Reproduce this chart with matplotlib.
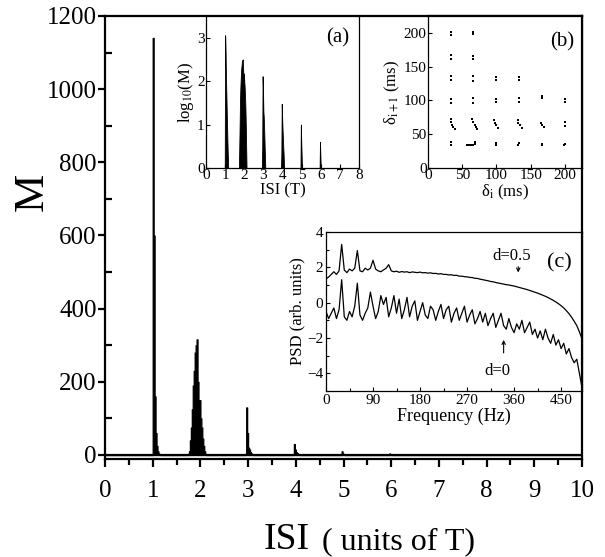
import numpy as np
import matplotlib
matplotlib.use("Agg")
import matplotlib.pyplot as plt
from matplotlib.ticker import MultipleLocator

plt.rcParams['font.family'] = ['Liberation Serif', 'DejaVu Serif']
plt.rcParams['mathtext.fontset'] = 'stix'

# ---------------- data ----------------
# ISI histogram (bin left edges in units of T, bin width 0.02)
isi_edges = [1.00, 1.02, 1.04, 1.06, 1.08, 1.10, 1.12, 1.14,
             1.74, 1.76, 1.78, 1.80, 1.82, 1.84, 1.86, 1.88, 1.90, 1.92, 1.94, 1.96, 1.98,
             2.00, 2.02, 2.04, 2.06, 2.08, 2.10,
             2.94, 2.96, 2.98, 3.00, 3.02, 3.04, 3.06, 3.08,
             3.94, 3.96, 3.98, 4.00, 4.02, 4.04, 4.06,
             4.96, 4.98, 5.00,
             5.96, 5.98]
isi_counts = [1140, 600, 160, 60, 25, 10, 4, 2,
              3, 10, 40, 75, 125, 190, 230, 280, 300, 316, 200, 100, 150,
              100, 75, 45, 25, 10, 3,
              3, 130, 60, 20, 15, 8, 4, 2,
              2, 30, 15, 8, 5, 3, 2,
              10, 4, 2,
              4, 2]
bin_width = 0.02

# return map (b): delta_i, delta_{i+1} in ms
map_x = [33, 33, 33, 33, 33, 33, 33, 33, 33, 34, 35, 37, 39, 33, 33,
         66, 66, 66, 66, 66, 66, 66, 66, 64, 66, 68, 70, 72, 57, 60, 63, 66, 68, 68,
         100, 100, 100, 100, 97, 98, 100, 103, 99, 100,
         133, 133, 133, 133, 131, 132, 134, 137, 132, 133,
         167, 167, 165, 167, 169, 166, 167,
         200, 200, 200, 200, 199, 200]
map_y = [197, 201, 162, 167, 130, 136, 96, 102, 72, 68, 64, 61, 58, 34, 38,
         198, 202, 162, 166, 129, 136, 96, 103, 72, 68, 64, 60, 57, 34, 34, 34, 34, 35, 38,
         131, 134, 98, 102, 71, 67, 63, 59, 34, 37,
         131, 134, 97, 103, 71, 67, 63, 59, 34, 37,
         104, 106, 66, 63, 60, 34, 35,
         98, 102, 62, 68, 34, 36]

# PSD (c)
freq = list(range(0, 491, 5))
psd_d05 = [1.35, 1.45, 1.6, 1.75, 1.6, 1.8, 3.3, 1.85, 1.7, 1.9, 1.8, 1.95, 2.95, 1.8, 1.75,
           1.95, 1.85, 1.95, 2.4, 1.9, 1.8, 1.75, 1.85, 1.95, 2.15, 1.8, 1.75, 1.78, 1.72, 1.76,
           1.73, 1.75, 1.7, 1.74, 1.72, 1.7, 1.73, 1.69, 1.7, 1.67, 1.69, 1.65, 1.66, 1.62, 1.64,
           1.6, 1.6, 1.57, 1.58, 1.54, 1.55, 1.5, 1.5, 1.47, 1.46, 1.43, 1.42, 1.38, 1.37, 1.33,
           1.3, 1.27, 1.24, 1.2, 1.18, 1.14, 1.11, 1.08, 1.05, 1.02, 1.0, 0.97, 0.94, 0.9, 0.86,
           0.82, 0.78, 0.74, 0.69, 0.64, 0.59, 0.54, 0.48, 0.42, 0.36, 0.29, 0.21, 0.13, 0.04,
           -0.06, -0.17, -0.3, -0.45, -0.62, -0.82, -1.05, -1.3, -1.65, -2.05]
psd_d0 = [-0.5, -0.9, -0.6, -0.3, -0.9, -0.4, 1.3, -0.8, -1.0, -0.5, -0.8, -0.2, 1.1, -0.7, -1.0,
          -0.6, -0.3, 0.6, -0.2, -0.9, -0.5, 0.4, -0.1, 0.3, -0.8, -0.3, 0.4, -0.6, 0.2, -0.9,
          -0.4, 0.3, -0.8, -0.2, 0.1, -1.0, -0.5, 0.0, -0.7, -0.9, -0.2, -0.4, -1.0, -0.5, -0.1,
          -0.9, -0.4, -0.2, -1.1, -0.6, -0.3, -1.0, -0.6, -0.2, -1.1, -0.7, -0.4, -1.2, -0.9, -0.5,
          -1.1, -0.6, -1.3, -0.9, -0.6, -1.4, -1.0, -0.6, -1.3, -1.5, -0.9, -1.4, -1.7, -1.2, -1.5,
          -1.0, -1.7, -1.4, -1.1, -1.8, -1.5, -2.0, -1.6, -2.1, -1.5, -2.0, -2.3, -1.8, -2.4, -2.1,
          -2.6, -2.3, -2.9, -2.6, -3.1, -3.4, -3.2, -4.0, -4.8]

# ---------------- figure ----------------
W, H = 605, 557
fig = plt.figure(figsize=(W / 100, H / 100), dpi=100)

def rect(l, t, r, b):
    return [l / W, 1 - b / H, (r - l) / W, (b - t) / H]

# full histogram grid (empty bins are zero)
grid = np.round(np.arange(0, 10.0001, bin_width), 2)
lookup = {round(e, 2): c for e, c in zip(isi_edges, isi_counts)}
hist = np.array([lookup.get(round(g, 2), 0) for g in grid], dtype=float)
loghist = np.where(hist > 0, np.log10(np.maximum(hist, 1)), 0.0)

# main axes
ax = fig.add_axes(rect(105, 16, 582, 459))
ax.fill_between(grid, hist, step='post', color='black', edgecolor='black', lw=0.9)
ax.plot([0, 10], [0, 0], color='black', lw=1.6)
ax.set_xlim(0, 10)
ax.set_ylim(-11, 1200)
ax.xaxis.set_major_locator(MultipleLocator(1))
ax.xaxis.set_minor_locator(MultipleLocator(0.5))
ax.yaxis.set_major_locator(MultipleLocator(200))
ax.yaxis.set_minor_locator(MultipleLocator(100))
for s in ax.spines.values():
    s.set_linewidth(1.6)
ax.tick_params(axis='x', which='major', direction='out', length=6, width=1.6, labelsize=18, pad=9)
ax.tick_params(axis='x', which='minor', direction='out', length=4, width=1.6)
ax.tick_params(axis='y', which='major', direction='out', length=5, width=1.6, labelsize=18, pad=1)
ax.tick_params(axis='y', which='minor', direction='in', length=5, width=1.6)

fig.text(32 / W, 1 - 192 / H, "M", fontsize=31, rotation=90, ha='center', va='center')
fig.text(264 / W, 1 - 549 / H, "ISI", fontsize=27, ha='left', va='baseline')
fig.text(322 / W, 1 - 549 / H, "( units of T)", fontsize=23, ha='left', va='baseline')

# inset (a)
axa = fig.add_axes(rect(206, 16, 359, 168))
axa.fill_between(grid, loghist, color='black', edgecolor='black', lw=0.6)
axa.set_xlim(0, 8)
axa.set_ylim(0, 3.5)
axa.set_xticks(range(0, 9))
axa.set_yticks([0, 1, 2, 3])
axa.tick_params(direction='in', length=3, width=0.8, labelsize=11, pad=1)
for s in axa.spines.values():
    s.set_linewidth(0.9)
axa.set_xlabel("ISI (T)", fontsize=12, labelpad=0)
axa.set_ylabel("log$_{10}$(M)", fontsize=12, labelpad=1)
axa.text(6.9, 3.0, "(a)", fontsize=15, ha='center', va='center')

# inset (b)
axb = fig.add_axes(rect(428, 16, 582, 168))
axb.scatter(map_x, map_y, s=4.5, marker='s', color='black', linewidths=0)
axb.set_xlim(0, 225)
axb.set_ylim(0, 225)
axb.set_xticks([0, 50, 100, 150, 200])
axb.set_yticks([0, 50, 100, 150, 200])
axb.tick_params(direction='in', length=3, width=0.8, labelsize=11, pad=1)
for s in axb.spines.values():
    s.set_linewidth(0.9)
axb.spines['right'].set_linewidth(1.6)
axb.spines['top'].set_linewidth(1.6)
axb.set_xlabel("δ$_\\mathrm{i}$ (ms)", fontsize=12, labelpad=0)
axb.set_ylabel("δ$_\\mathrm{i+1}$ (ms)", fontsize=12, labelpad=1)
axb.text(196, 187, "(b)", fontsize=15, ha='center', va='center')

# inset (c)
axc = fig.add_axes(rect(326, 232, 582, 391))
axc.plot(freq, psd_d05, color='black', lw=0.9)
axc.plot(freq, psd_d0, color='black', lw=0.9)
axc.set_xlim(0, 490)
axc.set_ylim(-5, 4)
axc.set_xticks([0, 90, 180, 270, 360, 450])
axc.xaxis.set_minor_locator(MultipleLocator(45))
axc.set_yticks([-4, -2, 0, 2, 4])
axc.yaxis.set_minor_locator(MultipleLocator(1))
axc.tick_params(which='major', direction='in', length=3, width=0.8, labelsize=11, pad=2)
axc.tick_params(which='minor', direction='in', length=2, width=0.8)
for s in axc.spines.values():
    s.set_linewidth(0.9)
axc.spines['right'].set_linewidth(1.6)
axc.set_xlabel("Frequency (Hz)", fontsize=13, labelpad=1)
axc.set_ylabel("PSD (arb. units)", fontsize=12, labelpad=1)
axc.text(355, 2.65, "d=0.5", fontsize=12, ha='center', va='center')
axc.annotate("", xy=(368, 1.55), xytext=(368, 2.2),
             arrowprops=dict(arrowstyle='->', lw=0.8, color='black', mutation_scale=6))
axc.text(328, -3.85, "d=0", fontsize=12, ha='center', va='center')
axc.annotate("", xy=(340, -1.95), xytext=(340, -3.0),
             arrowprops=dict(arrowstyle='->', lw=0.8, color='black', mutation_scale=6))
axc.text(447, 2.25, "(c)", fontsize=16, ha='center', va='center')

fig.savefig("out.png", dpi=100)
